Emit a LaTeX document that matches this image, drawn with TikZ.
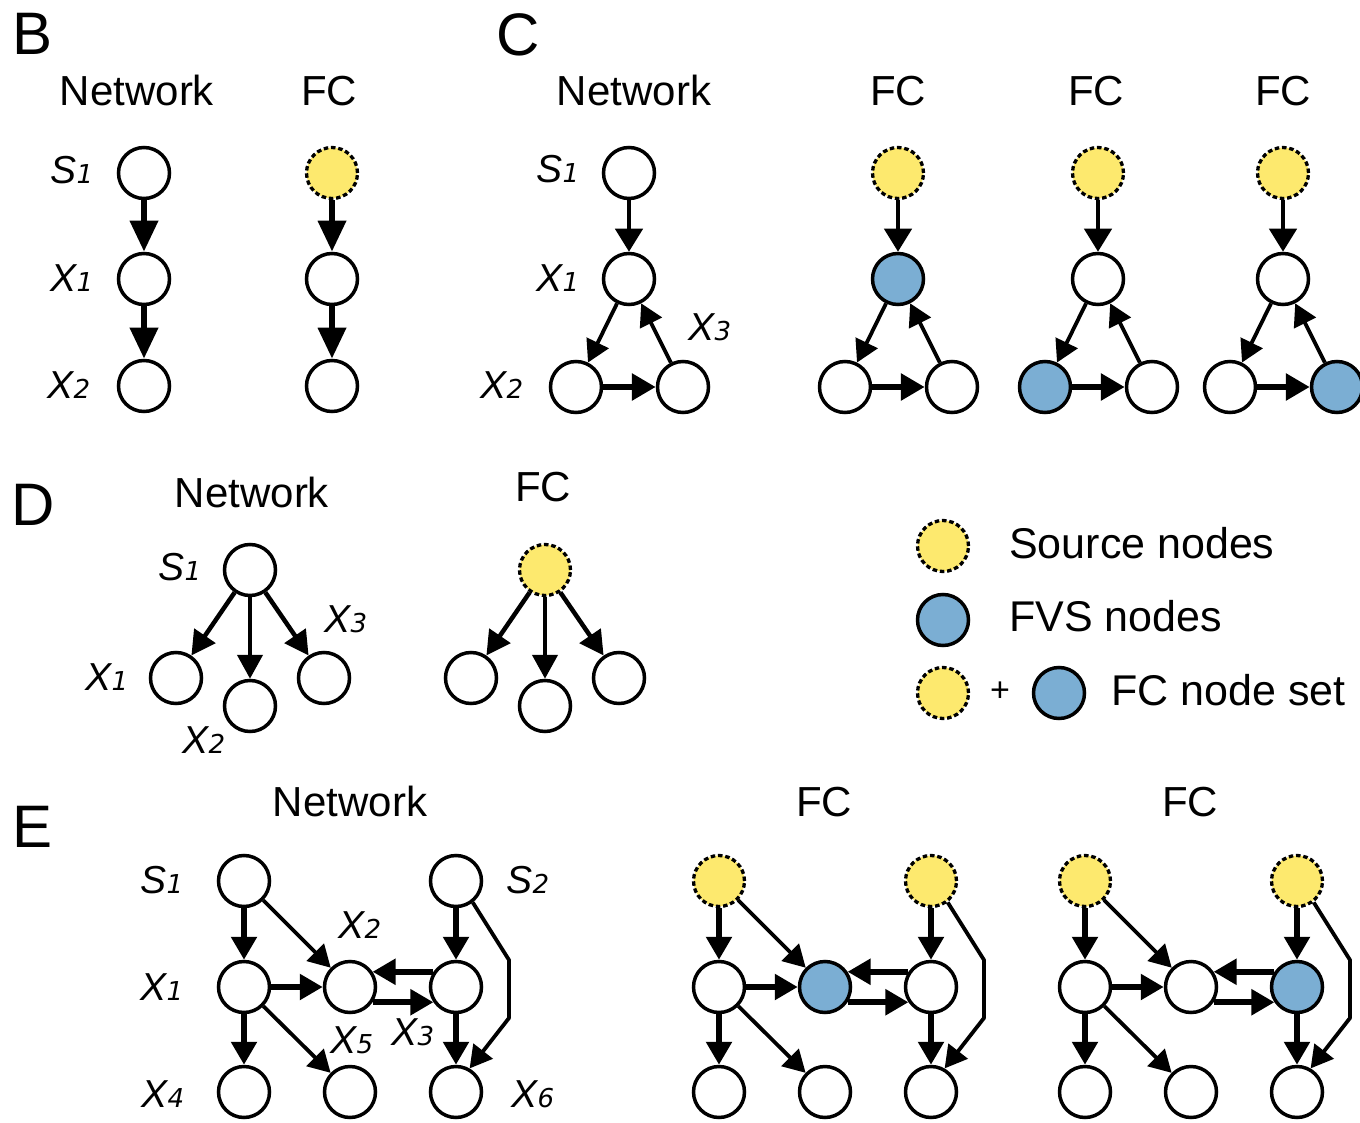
\documentclass[tikz,border=0pt]{standalone}
\usepackage{fontspec}
\setmainfont{Liberation Sans}
\newfontfamily\dvsfont{DejaVu Sans}
\usetikzlibrary{arrows.meta}
\definecolor{srcY}{HTML}{FDE96E}
\definecolor{fvsB}{HTML}{7BAED3}
\newcommand\nsub[1]{{\dvsfont\itshape\fontsize{26}{26}\selectfont #1}}
\tikzset{
 nd/.style={circle,draw=black,line width=3.5pt,minimum size=51pt,inner sep=0pt,fill=white},
 src/.style={nd,fill=srcY,line width=3.3pt,dash pattern=on 4.5pt off 2.8pt},
 fvs/.style={nd,fill=fvsB},
 head/.style={font=\fontsize{42}{42}\selectfont,anchor=base,inner sep=0pt},
 legt/.style={font=\fontsize{43}{43}\selectfont,anchor=base west,inner sep=0pt},
 panel/.style={font=\fontsize{60}{60}\selectfont,anchor=base,inner sep=0pt},
 lab/.style={font=\fontsize{39}{39}\selectfont\itshape,anchor=base,inner sep=0pt},
 arB/.style={line width=6.5pt,-{Triangle[width=27pt,length=31pt]}},
 arC/.style={line width=4.5pt,-{Triangle[width=27pt,length=23pt]}},
 arthick/.style={line width=6.5pt,-{Triangle[width=26pt,length=24pt]}},
 arthin/.style={line width=3.8pt,-{Triangle[width=24pt,length=22pt]}},
 arE/.style={line width=5.5pt,-{Triangle[width=25pt,length=23pt]}},
 arD/.style={line width=4.5pt,-{Triangle[width=25pt,length=24pt]}},
}
% panel C graph: shift, prefix, S, X1, X2, X3 styles
\newcommand\Cgraph[6]{%
\begin{scope}[xshift=#1pt]
 \node[#3] (#2s) at (629,173) {};
 \node[#4] (#2a) at (629,279) {};
 \node[#5] (#2b) at (576,387) {};
 \node[#6] (#2c) at (683,387) {};
 \draw[arC] (#2s) -- (#2a);
 \draw[arthin] (#2a) -- (#2b);
 \draw[arthin] (#2c) -- (#2a);
 \draw[arthick] (#2b) -- (#2c);
\end{scope}}
% panel D graph: shift, prefix, S style
\newcommand\Dgraph[3]{%
\begin{scope}[xshift=#1pt]
 \node[#3] (#2s) at (250,570) {};
 \node[nd] (#2a) at (176,678) {};
 \node[nd] (#2b) at (250,706) {};
 \node[nd] (#2c) at (324,678) {};
 \draw[arD] (#2s) -- (#2a);
 \draw[arD] (#2s) -- (#2b);
 \draw[arD] (#2s) -- (#2c);
\end{scope}}
% panel E graph: shift, prefix, S style, X2 style, X3 style
\newcommand\Egraph[5]{%
\begin{scope}[xshift=#1pt]
 \node[#3] (#2s1) at (244,881) {};
 \node[#3] (#2s2) at (456,881) {};
 \node[nd] (#2x1) at (244,987) {};
 \node[#4] (#2x2) at (350,987) {};
 \node[#5] (#2x3) at (456,987) {};
 \node[nd] (#2x4) at (244,1092) {};
 \node[nd] (#2x5) at (350,1092) {};
 \node[nd] (#2x6) at (456,1092) {};
 \coordinate (#2p) at (509,960);
 \coordinate (#2q) at (509,1018);
 \draw[arE] (#2s1) -- (#2x1);
 \draw[arthin] (#2s1) -- (#2x2);
 \draw[arE] (#2x1) -- (#2x2);
 \draw[arE] (#2x1) -- (#2x4);
 \draw[arthin] (#2x1) -- (#2x5);
 \draw[arE] (#2s2) -- (#2x3);
 \draw[arE] (#2x3.146) -- (#2x2.34);
 \draw[arE] (#2x2.-34) -- (#2x3.-146);
 \draw[arE] (#2x3) -- (#2x6);
 \draw[arthin,line join=round] (#2s2.-52) -- (#2p) -- (#2q) -- (#2x6.60);
\end{scope}}
\begin{document}
\begin{tikzpicture}[x=1pt,y=-1pt]
\fill[white] (0,0) rectangle (1360,1123);
\useasboundingbox (0,0) rectangle (1360,1123);

% ---------- B ----------
\node[panel] (tB) at (33,55) {B};
\node[head] (hB1) at (137,106) {Network};
\node[head] (hB2) at (329,106) {FC};
\node[nd] (bs) at (144,173) {};
\node[nd] (bx1) at (144,279) {};
\node[nd] (bx2) at (144,386) {};
\draw[arB] (bs) -- (bx1);
\draw[arB] (bx1) -- (bx2);
\node[src] (fs) at (332,173) {};
\node[nd] (fx1) at (332,279) {};
\node[nd] (fx2) at (332,386) {};
\draw[arB] (fs) -- (fx1);
\draw[arB] (fx1) -- (fx2);
\node[lab] (lbs) at (72,184) {S\nsub{1}};
\node[lab] (lbx1) at (72,292) {X\nsub{1}};
\node[lab] (lbx2) at (69,398) {X\nsub{2}};

% ---------- C ----------
\node[panel] (tC) at (518,56) {C};
\node[head] (hC1) at (634,106) {Network};
\node[head] (hC2) at (898,106) {FC};
\node[head] (hC3) at (1096,106) {FC};
\node[head] (hC4) at (1283,106) {FC};
\Cgraph{0}{cn}{nd}{nd}{nd}{nd}
\Cgraph{269}{cf}{src}{fvs}{nd}{nd}
\Cgraph{469}{cg}{src}{nd}{fvs}{nd}
\Cgraph{654}{ch}{src}{nd}{nd}{fvs}
\node[lab] (lcs) at (558,183) {S\nsub{1}};
\node[lab] (lcx1) at (558,292) {X\nsub{1}};
\node[lab] (lcx3) at (710,340) {X\nsub{3}};
\node[lab] (lcx2) at (502,398) {X\nsub{2}};

% ---------- D ----------
\node[panel] (tD) at (33,525) {D};
\node[head] (hD1) at (252,507) {Network};
\node[head] (hD2) at (543,501) {FC};
\Dgraph{0}{dn}{nd}
\Dgraph{295}{df}{src}
\node[lab] (lds) at (180,580) {S\nsub{1}};
\node[lab] (ldx1) at (107,690) {X\nsub{1}};
\node[lab] (ldx2) at (204,753) {X\nsub{2}};
\node[lab] (ldx3) at (346,632) {X\nsub{3}};

% ---------- Legend ----------
\node[src] (lg1) at (943,546) {};
\node[fvs] (lg2) at (943,620) {};
\node[src] (lg3) at (943,693) {};
\node[fvs] (lg4) at (1059,693) {};
\node[legt] (lt1) at (1009,558) {Source nodes};
\node[legt] (lt2) at (1009,631) {FVS nodes};
\node[legt] (lt3) at (1111,705) {FC node set};
\node[font=\fontsize{34}{34}\selectfont,inner sep=0pt] (lplus) at (1000,692) {+};

% ---------- E ----------
\node[panel] (tE) at (33,847) {E};
\node[head] (hE1) at (350,816) {Network};
\node[head] (hE2) at (824,816) {FC};
\node[head] (hE3) at (1190,816) {FC};
\Egraph{0}{en}{nd}{nd}{nd}
\Egraph{475}{ef}{src}{fvs}{nd}
\Egraph{841}{eg}{src}{nd}{fvs}
\node[lab] (les1) at (162,893) {S\nsub{1}};
\node[lab] (lex1) at (162,1000) {X\nsub{1}};
\node[lab] (lex4) at (163,1107) {X\nsub{4}};
\node[lab] (lex2) at (360,938) {X\nsub{2}};
\node[lab] (lex5) at (352,1053) {X\nsub{5}};
\node[lab] (lex3) at (413,1045) {X\nsub{3}};
\node[lab] (les2) at (528,893) {S\nsub{2}};
\node[lab] (lex6) at (533,1107) {X\nsub{6}};
\end{tikzpicture}
\end{document}
